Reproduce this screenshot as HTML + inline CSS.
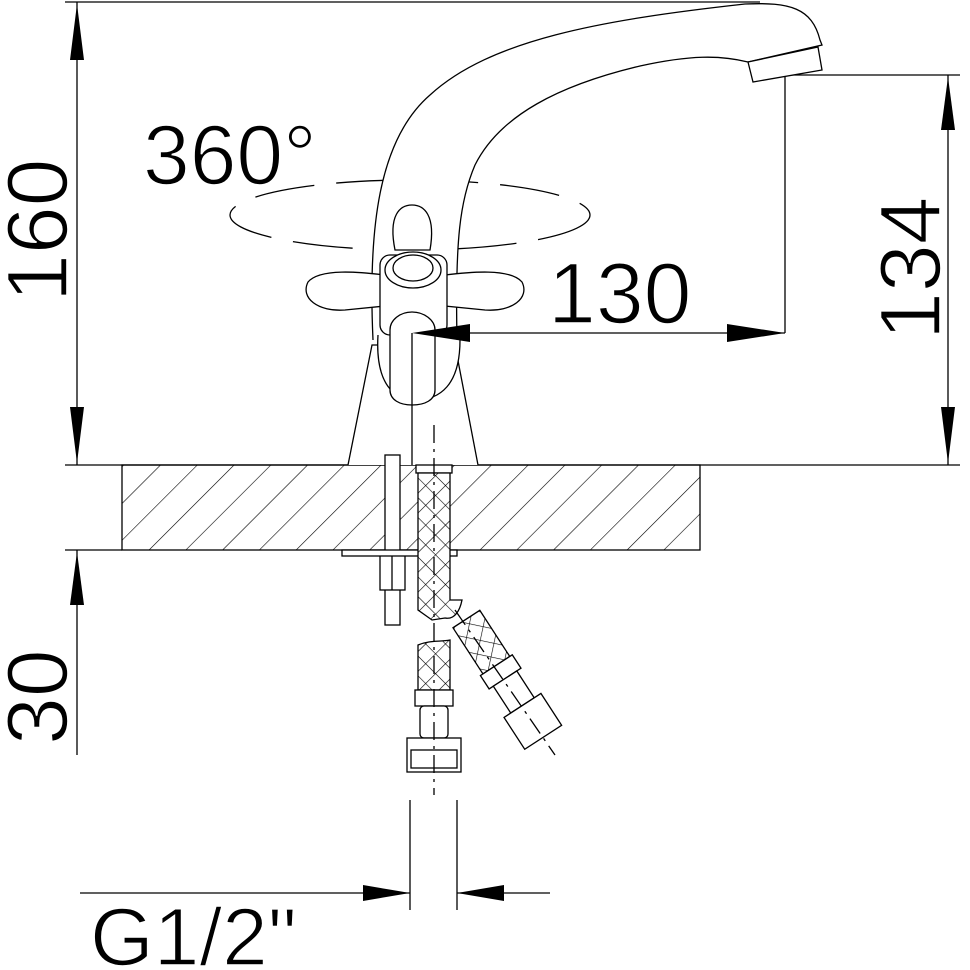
<!DOCTYPE html>
<html><head><meta charset="utf-8"><style>
html,body{margin:0;padding:0;background:#fff}
svg{display:block}
text{font-family:"Liberation Sans","DejaVu Sans",sans-serif;fill:#000;stroke:#fff;stroke-width:1.6}
</style></head><body>
<svg width="970" height="970" viewBox="0 0 970 970" xmlns="http://www.w3.org/2000/svg">
<defs>
<pattern id="hatch" patternUnits="userSpaceOnUse" width="26" height="26" patternTransform="rotate(45)">
<line x1="0" y1="0" x2="0" y2="26" stroke="#000" stroke-width="1.2"/>
</pattern>
<pattern id="mesh" patternUnits="userSpaceOnUse" width="14" height="14" patternTransform="rotate(45)">
<rect width="14" height="14" fill="#fff"/>
<line x1="0" y1="0" x2="0" y2="14" stroke="#000" stroke-width="1.2"/>
<line x1="0" y1="0" x2="14" y2="0" stroke="#000" stroke-width="1.2"/>
</pattern>
</defs>
<g stroke="#000" fill="none" stroke-width="1.3">
<line x1="65" y1="2" x2="760" y2="2"/>
<line x1="65" y1="465" x2="960" y2="465"/>
<line x1="785" y1="75" x2="960" y2="75"/>
<line x1="65" y1="550" x2="122" y2="550"/>
<line x1="77" y1="2" x2="77" y2="465"/>
<line x1="948" y1="75" x2="948" y2="465"/>
<line x1="785" y1="75" x2="785" y2="333"/>
<line x1="412" y1="333" x2="785" y2="333"/>
<line x1="412" y1="325" x2="412" y2="465"/>
<line x1="77" y1="550" x2="77" y2="755"/>
<line x1="410" y1="800" x2="410" y2="910"/>
<line x1="457" y1="800" x2="457" y2="910"/>
<line x1="80" y1="893" x2="410" y2="893"/>
<line x1="457" y1="893" x2="550" y2="893"/>
<rect x="122" y="465" width="578" height="85" fill="url(#hatch)"/>
<ellipse cx="410" cy="215" rx="180" ry="35" stroke-dasharray="60,22"/>
<path d="M373,340 C368,230 378,140 430,95 C490,40 600,20 745,4 C790,2 812,8 820,40 L822,45 L748,62 C720,55 690,55 640,66 C560,85 500,115 475,165 C460,200 455,240 457,340" fill="#fff"/>
<path d="M748,62 L818,47 L822,70 L753,82 Z" fill="#fff"/>
<path d="M348,465 L372,345 L455,345 L478,465" fill="#fff"/>
<path d="M378,335 C375,385 395,400 415,400 C440,400 460,385 460,340" fill="#fff"/>
<path d="M395,250 C388,215 400,205 412,205 C424,205 436,215 430,250 Z" fill="#fff"/>
<path d="M385,275 C360,272 320,268 308,282 C300,298 318,312 345,310 L385,306 Z" fill="#fff"/>
<path d="M445,275 C470,272 510,268 522,282 C530,298 512,312 485,310 L445,306 Z" fill="#fff"/>
<rect x="380" y="255" width="67" height="80" rx="10" fill="#fff"/>
<ellipse cx="413" cy="270" rx="28" ry="18" fill="#fff"/>
<ellipse cx="413" cy="268" rx="20" ry="13" fill="#fff"/>
<path d="M390,390 L390,330 C390,320 400,312 412,312 C424,312 435,320 435,330 L435,390 C435,400 425,405 412,405 C400,405 390,400 390,390 Z" fill="#fff"/>
<line x1="412" y1="333" x2="412" y2="465"/>
<rect x="385" y="455" width="15" height="170" fill="#fff"/>
<rect x="380" y="555" width="25" height="35" fill="#fff"/>
<line x1="392" y1="555" x2="392" y2="590"/>
<rect x="342" y="550" width="115" height="6" fill="#fff"/>
<rect x="416" y="465" width="36" height="8" fill="#fff"/>
<path d="M418,473 L450,473 L450,600 L462,600 C460,610 455,620 445,618 L432,620 L418,610 Z" fill="url(#mesh)"/>
<g transform="translate(480,640) rotate(-33)">
<rect x="-16" y="-25" width="32" height="55" fill="url(#mesh)"/>
<rect x="-19" y="30" width="38" height="16" fill="#fff"/>
<rect x="-14" y="46" width="28" height="32" fill="#fff"/>
<rect x="-22" y="78" width="44" height="38" fill="#fff"/>
</g>
<line x1="455" y1="610" x2="555" y2="755" stroke-dasharray="18,6,3,6"/>
<path d="M418,645 C430,640 440,642 450,640 L450,690 L418,690 Z" fill="url(#mesh)"/>
<rect x="415" y="690" width="38" height="16" fill="#fff"/>
<rect x="420" y="706" width="28" height="32" rx="4" fill="#fff"/>
<rect x="407" y="738" width="54" height="34" fill="#fff"/>
<rect x="411" y="750" width="46" height="18" fill="#fff"/>
<line x1="434" y1="425" x2="434" y2="795" stroke-dasharray="18,6,3,6"/>
</g>
<g fill="#000">
<polygon points="77,4 70,60 84,60"/>
<polygon points="77,463 70,407 84,407"/>
<polygon points="948,77 941,130 955,130"/>
<polygon points="948,463 941,407 955,407"/>
<polygon points="412,333 470,324 470,342"/>
<polygon points="785,333 727,324 727,342"/>
<polygon points="77,552 70,605 84,605"/>
<polygon points="410,893 363,885 363,901"/>
<polygon points="457,893 504,885 504,901"/>
</g>
<text x="143" y="184" font-size="84">360°</text>
<text x="548" y="323" font-size="86">130</text>
<text transform="translate(67,302) rotate(-90)" font-size="86">160</text>
<text transform="translate(940,340) rotate(-90)" font-size="86">134</text>
<text transform="translate(67,745) rotate(-90)" font-size="86">30</text>
<text x="90" y="965" font-size="82">G1/2"</text>
</svg>
</body></html>
